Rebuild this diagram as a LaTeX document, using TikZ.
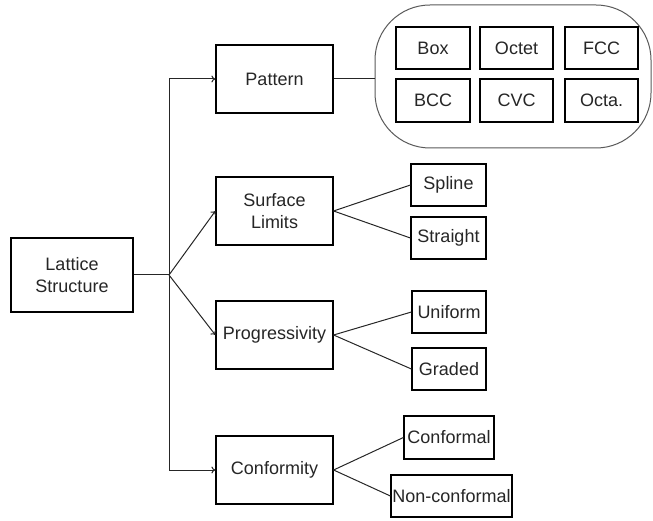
\documentclass[tikz,border=0pt]{standalone}
\usepackage{fontspec}
\setmainfont{Liberation Sans}
\usetikzlibrary{arrows.meta}
\begin{document}
\begin{tikzpicture}[x=1pt,y=-1pt,
  box/.style={draw=black,line width=1.2pt,fill=white,inner sep=0pt,align=center,
    font=\fontsize{18}{22}\selectfont,text=black!85},
  conn/.style={line width=1pt,draw=black!85},
  arr/.style={conn,-{To[length=4pt,width=7pt]}}]
\useasboundingbox (0,0) rectangle (653,521);
% container
\node[draw=black!65,line width=1pt,rounded corners=55pt,minimum width=276pt,minimum height=143pt,inner sep=0pt] (cont) at (513,76.5) {};
% nodes
\node[box,minimum width=122pt,minimum height=74pt] (lat) at (72,275) {Lattice\\Structure};
\node[box,minimum width=117pt,minimum height=68pt] (pattern) at (274.5,79) {Pattern};
\node[box,minimum width=117pt,minimum height=68pt] (surf) at (274.5,211) {Surface\\Limits};
\node[box,minimum width=117pt,minimum height=68pt] (prog) at (274.5,335) {Progressivity};
\node[box,minimum width=117pt,minimum height=68pt] (conf) at (274.5,470) {Conformity};
\node[box,minimum width=75pt,minimum height=42pt] (spline) at (448.5,185) {Spline};
\node[box,minimum width=75pt,minimum height=42pt] (straight) at (448.5,238) {Straight};
\node[box,minimum width=74pt,minimum height=42pt] (uniform) at (449,312) {Uniform};
\node[box,minimum width=74pt,minimum height=42pt] (graded) at (449,369) {Graded};
\node[box,minimum width=90pt,minimum height=43pt] (conformal) at (449,437.5) {Conformal};
\node[box,minimum width=121pt,minimum height=42pt] (nonconf) at (451.5,496) {Non-conformal};
\node[box,minimum width=74pt,minimum height=42pt] (bx) at (433,48) {Box};
\node[box,minimum width=73pt,minimum height=42pt] (octet) at (516.5,48) {Octet};
\node[box,minimum width=73pt,minimum height=42pt] (fcc) at (601.5,48) {FCC};
\node[box,minimum width=74pt,minimum height=43pt] (bcc) at (433,100.5) {BCC};
\node[box,minimum width=73pt,minimum height=43pt] (cvc) at (516.5,100.5) {CVC};
\node[box,minimum width=73pt,minimum height=43pt] (octa) at (601.5,100.5) {Octa.};
% connectors
\coordinate (J) at (169,275);
\draw[conn] (lat.east) -- (J);
\draw[arr] (J) |- (pattern.west);
\draw[arr] (J) |- (conf.west);
\draw[arr] (J) -- (surf.west);
\draw[arr] (J) -- (prog.west);
\draw[conn] (pattern.east) -- (pattern.east -| cont.west);
\draw[conn] (surf.east) -- (spline.west);
\draw[conn] (surf.east) -- (straight.west);
\draw[conn] (prog.east) -- (uniform.west);
\draw[conn] (prog.east) -- (graded.west);
\draw[conn] (conf.east) -- (conformal.west);
\draw[conn] (conf.east) -- (nonconf.west);
\end{tikzpicture}
\end{document}
